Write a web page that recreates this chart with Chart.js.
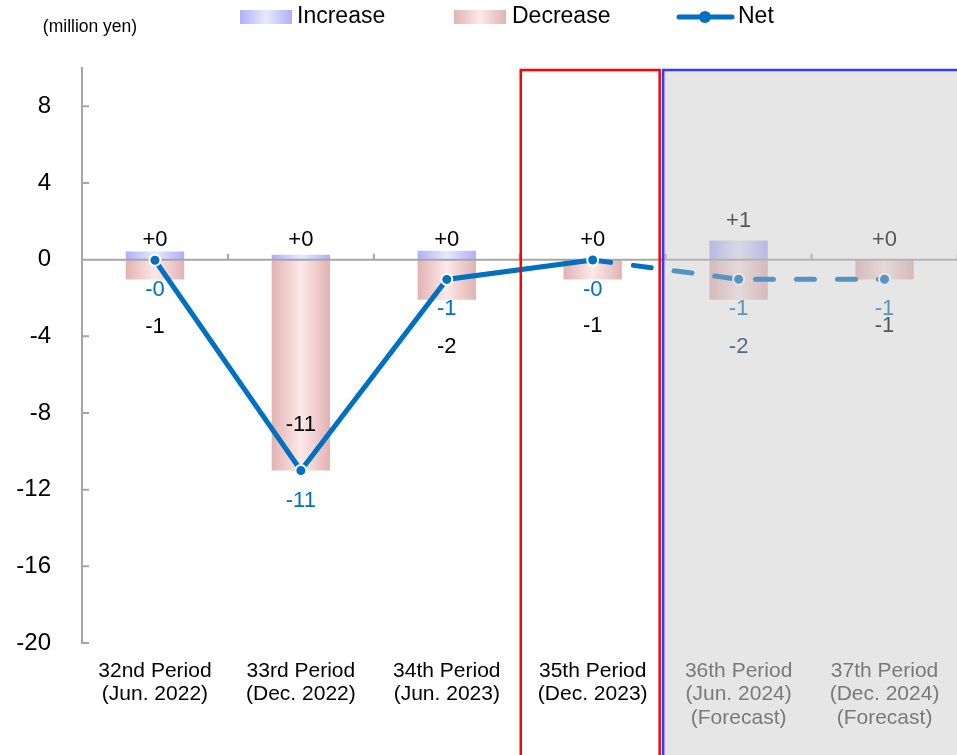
<!DOCTYPE html>
<html>
<head>
<meta charset="utf-8">
<script src="https://cdn.jsdelivr.net/npm/chart.js@4.4.1/dist/chart.umd.min.js"></script>
<style>
  html, body { margin: 0; padding: 0; background: #ffffff; }
  #wrap { width: 957px; height: 755px; position: relative; overflow: hidden; }
  #chart { display: block; }
</style>
</head>
<body>
<div id="wrap"><canvas id="chart" width="965" height="755"></canvas></div>
<script>
// Fiscal periods and their closing months
const periods = ['32nd Period', '33rd Period', '34th Period', '35th Period', '36th Period', '37th Period'];
const periodDates = ['(Jun. 2022)', '(Dec. 2022)', '(Jun. 2023)', '(Dec. 2023)', '(Jun. 2024)', '(Dec. 2024)'];
const periodNotes = ['', '', '', '', '(Forecast)', '(Forecast)'];

// Changes per period (million yen)
const increase = [0.42, 0.26, 0.47, 0, 1.0, 0];
const decrease = [-1.04, -11.0, -2.09, -1.03, -2.09, -1.03];
const net = [-0.03, -11.0, -1.03, -0.02, -1.02, -1.02];

// Value axis
const yTicks = [-20, -16, -12, -8, -4, 0, 4, 8];
const yMin = -20;
const yMax = 10;

// First period shown as a forecast
const firstForecast = 4;

const FONT = "'Liberation Sans', Arial, Helvetica, sans-serif";
const BAR_FRACTION = 0.4;
const NET_BLUE = '#0070C0';

const categoryLabels = periods.map((p, i) =>
  periodNotes[i] ? [p, periodDates[i], periodNotes[i]] : [p, periodDates[i]]);

// Horizontal "cylinder" shading: edge - light centre - edge for every bar
function barGradient(chart, edge, centre) {
  const area = chart.chartArea;
  const xs = chart.scales.x;
  if (!area || !xs) return edge;
  const g = chart.ctx.createLinearGradient(area.left, 0, area.right, 0);
  const w = area.right - area.left;
  const half = (xs.width / periods.length) * BAR_FRACTION / 2;
  const f = p => Math.min(1, Math.max(0, (p - area.left) / w));
  periods.forEach((_, i) => {
    const cx = xs.getPixelForValue(i);
    g.addColorStop(f(cx - half), edge);
    g.addColorStop(f(cx), centre);
    g.addColorStop(f(cx + half), edge);
  });
  return g;
}

const fmtSigned = v => (v < 0 || Object.is(v, -0) ? '-' : '+') + Math.round(Math.abs(v));
const fmtNeg = v => '-' + Math.round(Math.abs(v));

// Zero line, category separators on it, and inward ticks on the value axis
const axisMarks = {
  id: 'axisMarks',
  beforeDatasetDraw(chart, args) {
    if (args.index !== 2) return;
    const { ctx, chartArea: a, scales: { x, y } } = chart;
    const y0 = y.getPixelForValue(0);
    const step = x.width / periods.length;
    ctx.save();
    ctx.strokeStyle = '#a6a6a6';
    ctx.lineWidth = 2;
    ctx.beginPath();
    ctx.moveTo(a.left, y0);
    ctx.lineTo(a.right, y0);
    for (let i = 0; i < periods.length; i++) {
      const bx = x.getPixelForValue(i) + step / 2;
      ctx.moveTo(bx, y0);
      ctx.lineTo(bx, y0 - 6);
    }
    y.ticks.forEach(t => {
      const py = y.getPixelForValue(t.value);
      ctx.moveTo(a.left, py);
      ctx.lineTo(a.left + 7, py);
    });
    ctx.stroke();
    ctx.restore();
  }
};

// Value labels for increase, decrease and net
const valueLabels = {
  id: 'valueLabels',
  afterDatasetsDraw(chart) {
    const { ctx, scales: { x, y } } = chart;
    const y0 = y.getPixelForValue(0);
    ctx.save();
    ctx.font = `22px ${FONT}`;
    ctx.textAlign = 'center';
    ctx.textBaseline = 'middle';
    periods.forEach((_, i) => {
      const cx = x.getPixelForValue(i);
      // increase: above the bar
      ctx.fillStyle = '#000000';
      ctx.fillText(fmtSigned(increase[i]), cx, y.getPixelForValue(Math.round(increase[i])) - 20);
      // decrease: below the bar end, or inside it for long bars
      const end = y.getPixelForValue(decrease[i]);
      const dy = (end - y0) > 150 ? end - 46 : end + 47;
      ctx.fillStyle = i === 4 ? '#002060' : '#000000';
      ctx.fillText(fmtNeg(decrease[i]), cx, dy);
      // net: under the point
      ctx.fillStyle = NET_BLUE;
      ctx.fillText(fmtSigned(net[i]), cx, y.getPixelForValue(net[i]) + 30);
    });
    ctx.restore();
  }
};

// Forecast shading plus the frames around the latest actual and forecast periods
const periodFrames = {
  id: 'periodFrames',
  afterDraw(chart) {
    const { ctx, scales: { x } } = chart;
    const step = x.width / periods.length;
    const split = x.getPixelForValue(firstForecast - 1) + step / 2;
    const actualLeft = x.getPixelForValue(firstForecast - 1) - step / 2;
    const top = 70;
    ctx.save();
    ctx.fillStyle = 'rgba(197,197,197,0.43)';
    ctx.fillRect(split - 3, top, chart.width - split + 3, chart.height - top);
    ctx.lineWidth = 2.5;
    ctx.strokeStyle = '#ff0000';
    ctx.strokeRect(actualLeft + 1, top, split - 6 - actualLeft - 1, chart.height + 10);
    ctx.strokeStyle = '#3a3aff';
    ctx.strokeRect(split - 2.5, top, chart.width - split + 10, chart.height + 10);
    ctx.restore();
  }
};

// Unit caption and legend
const header = {
  id: 'header',
  afterDraw(chart) {
    const ctx = chart.ctx;
    ctx.save();
    ctx.fillStyle = '#000000';
    ctx.textBaseline = 'middle';
    ctx.textAlign = 'center';
    ctx.font = `17.5px ${FONT}`;
    ctx.fillText('(million yen)', 90, 27);

    ctx.textAlign = 'left';
    ctx.font = `23px ${FONT}`;
    const cy = 17;
    const swatch = (x0, edge, centre) => {
      const g = ctx.createLinearGradient(x0, 0, x0 + 52, 0);
      g.addColorStop(0, edge); g.addColorStop(0.5, centre); g.addColorStop(1, edge);
      ctx.fillStyle = g;
      ctx.fillRect(x0, 10, 52, 14);
    };
    swatch(240, '#afaff8', '#e9e9fb');
    ctx.fillStyle = '#000000';
    ctx.fillText('Increase', 297, cy);
    swatch(454, '#e2b2b2', '#fde9e9');
    ctx.fillStyle = '#000000';
    ctx.fillText('Decrease', 512, cy);

    ctx.strokeStyle = NET_BLUE;
    ctx.lineWidth = 5;
    ctx.lineCap = 'round';
    ctx.beginPath();
    ctx.moveTo(679, cy);
    ctx.lineTo(732, cy);
    ctx.stroke();
    ctx.fillStyle = NET_BLUE;
    ctx.beginPath();
    ctx.arc(705, cy, 6, 0, Math.PI * 2);
    ctx.fill();
    ctx.fillStyle = '#000000';
    ctx.fillText('Net', 738, cy);
    ctx.restore();
  }
};

Chart.defaults.font.family = FONT;

new Chart(document.getElementById('chart'), {
  type: 'bar',
  data: {
    labels: categoryLabels,
    datasets: [
      {
        label: 'Increase',
        data: increase,
        order: 1,
        grouped: false,
        barPercentage: BAR_FRACTION,
        categoryPercentage: 1,
        borderWidth: 0,
        backgroundColor: c => barGradient(c.chart, '#afaff8', '#e9e9fb')
      },
      {
        label: 'Decrease',
        data: decrease,
        order: 1,
        grouped: false,
        barPercentage: BAR_FRACTION,
        categoryPercentage: 1,
        borderWidth: 0,
        backgroundColor: c => barGradient(c.chart, '#e2b2b2', '#fde9e9')
      },
      {
        type: 'line',
        label: 'Net',
        data: net,
        order: 0,
        borderColor: NET_BLUE,
        borderWidth: 5,
        borderCapStyle: 'round',
        tension: 0,
        pointRadius: 5.5,
        pointBackgroundColor: NET_BLUE,
        pointBorderColor: '#ffffff',
        pointBorderWidth: 2,
        segment: {
          borderDash: c => (c.p0DataIndex >= firstForecast - 1 ? [18, 23] : undefined)
        }
      }
    ]
  },
  options: {
    responsive: false,
    animation: false,
    devicePixelRatio: 1,
    layout: { padding: { top: 68, left: 0, right: 0, bottom: 0 } },
    plugins: {
      legend: { display: false },
      tooltip: { enabled: false }
    },
    scales: {
      x: {
        grid: { display: false },
        border: { display: false },
        ticks: {
          padding: 8,
          maxRotation: 0,
          autoSkip: false,
          font: { size: 21, lineHeight: 1.12 },
          color: c => (c.index >= firstForecast ? '#404040' : '#000000')
        },
        afterFit: s => { s.height = 112; }
      },
      y: {
        min: yMin,
        max: yMax,
        grid: { display: false },
        border: { display: true, color: '#a6a6a6', width: 2 },
        ticks: {
          padding: 23,
          color: '#000000',
          font: { size: 24 }
        },
        afterBuildTicks: s => { s.ticks = yTicks.map(v => ({ value: v })); },
        afterFit: s => { s.width = 82; }
      }
    }
  },
  plugins: [axisMarks, valueLabels, periodFrames, header]
});
</script>
</body>
</html>
